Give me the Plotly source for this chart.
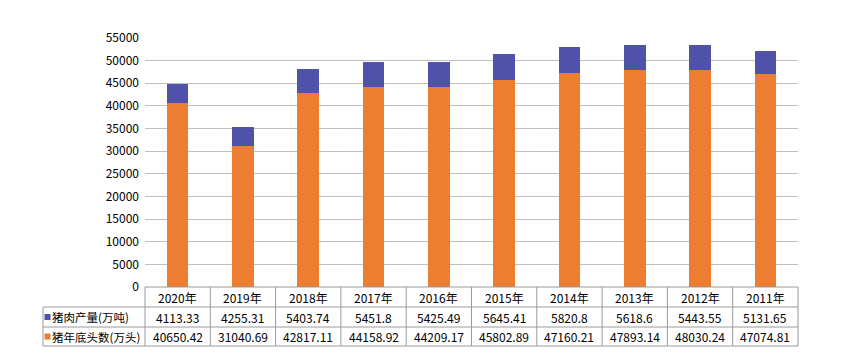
import plotly.graph_objects as go

years = ["2020年", "2019年", "2018年", "2017年", "2016年", "2015年", "2014年", "2013年", "2012年", "2011年"]
pork = [4113.33, 4255.31, 5403.74, 5451.8, 5425.49, 5645.41, 5820.8, 5618.6, 5443.55, 5131.65]
hogs = [40650.42, 31040.69, 42817.11, 44158.92, 44209.17, 45802.89, 47160.21, 47893.14, 48030.24, 47074.81]
pork_name = "猪肉产量(万吨)"
hogs_name = "猪年底头数(万头)"

BLUE = "#5052A9"
ORANGE = "#ED7D31"
GRID = "#BFBFBF"
LINE = "#9A9A9A"
FONT = "Noto Sans CJK SC"

W, H = 842, 360
L, R, T, B = 145, 798, 38, 287

fig = go.Figure()
fig.add_bar(x=years, y=hogs, name=hogs_name, marker_color=ORANGE, marker_line_width=0)
fig.add_bar(x=years, y=pork, name=pork_name, marker_color=BLUE, marker_line_width=0)

def px2x(px):
    return (px - L) / (R - L)

def py2y(py):
    return (B - py) / (B - T)

shapes = []
rows = [287, 307, 327, 346]
shapes.append(dict(type="line", xref="paper", yref="paper", x0=px2x(L), x1=px2x(R), y0=py2y(287), y1=py2y(287), line=dict(color=LINE, width=1)))
for r in rows[1:]:
    shapes.append(dict(type="line", xref="paper", yref="paper", x0=px2x(43), x1=px2x(R), y0=py2y(r), y1=py2y(r), line=dict(color=LINE, width=1)))
n = len(years)
colw = (R - L) / n
for i in range(n + 1):
    xp = L + i * colw
    shapes.append(dict(type="line", xref="paper", yref="paper", x0=px2x(xp), x1=px2x(xp), y0=py2y(287), y1=py2y(346), line=dict(color=LINE, width=1)))
shapes.append(dict(type="line", xref="paper", yref="paper", x0=px2x(43), x1=px2x(43), y0=py2y(307), y1=py2y(346), line=dict(color=LINE, width=1)))

ann = []
fs = 12
tf = dict(size=fs, color="#000000", family=FONT)
for i, yr in enumerate(years):
    ann.append(dict(x=yr, xref="x", y=py2y(297), yref="paper", yanchor="middle", text=yr, showarrow=False, font=tf))
    ann.append(dict(x=yr, xref="x", y=py2y(317), yref="paper", yanchor="middle", text=str(pork[i]), showarrow=False, font=tf))
    ann.append(dict(x=yr, xref="x", y=py2y(336.5), yref="paper", yanchor="middle", text=str(hogs[i]), showarrow=False, font=tf))

for name, color, yc in [(pork_name, BLUE, 317), (hogs_name, ORANGE, 336.5)]:
    shapes.append(dict(type="rect", xref="paper", yref="paper", x0=px2x(44.5), x1=px2x(50.5),
                       y0=py2y(yc - 3), y1=py2y(yc + 3), fillcolor=color, line=dict(width=0)))
    ann.append(dict(x=px2x(50), xref="paper", y=py2y(yc), yref="paper", xanchor="left", yanchor="middle",
                    text=name, showarrow=False, font=dict(size=11.5, color="#000000", family=FONT),
                    xshift=1, borderpad=0))

fig.update_layout(
    width=W, height=H,
    margin=dict(l=L, r=W - R, t=T, b=H - B, pad=0),
    barmode="stack", bargap=0.67,
    showlegend=False,
    plot_bgcolor="white", paper_bgcolor="white",
    font=dict(family=FONT, size=fs, color="#000000"),
    xaxis=dict(showticklabels=False, showgrid=False, zeroline=False, showline=False, ticks=""),
    yaxis=dict(range=[0, 55000], dtick=5000, tickformat="d", showgrid=True, gridcolor=GRID, gridwidth=1,
               zeroline=False, showline=False, ticks="", ticklabelstandoff=5,
               tickfont=tf),
    shapes=shapes, annotations=ann,
)

fig.write_html("out.html", config={"displayModeBar": False},
               post_script="document.body.style.margin='0';document.body.style.overflow='hidden';")
